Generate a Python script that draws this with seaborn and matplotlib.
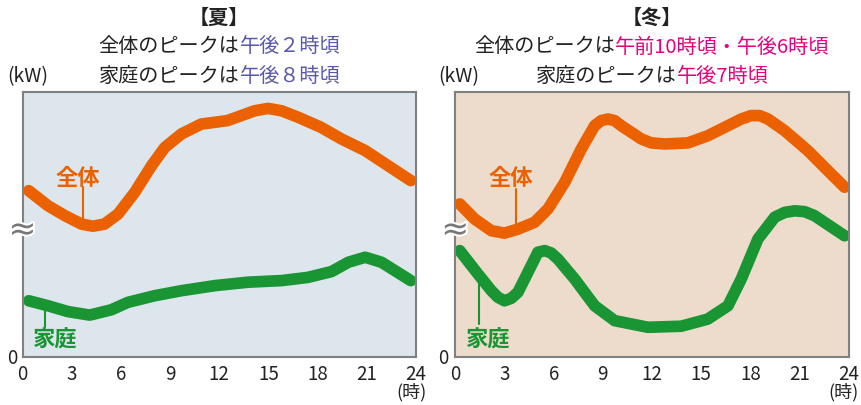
import matplotlib
matplotlib.use("Agg")
import matplotlib.pyplot as plt
import matplotlib.patheffects as pe
import seaborn as sns
import pandas as pd

# ---------------- data (0-100 relative scale) -------------
summer_total_h = [0.38, 1.56, 2.58, 3.6, 4.3, 5.0, 5.83, 6.85, 7.87, 8.68, 9.7, 10.9, 12.5,
                  13.35, 14.16, 14.98, 15.8, 16.8, 18.2, 19.45, 20.9, 22.3, 23.68]
summer_total_v = [62.7, 57.0, 53.3, 50.1, 49.3, 50.1, 53.9, 62.1, 72.1, 79.0, 84.1, 87.8, 89.1,
                  91.0, 92.8, 93.7, 92.8, 90.4, 86.6, 82.2, 77.8, 72.1, 66.5]
summer_home_h = [0.38, 1.56, 2.78, 4.1, 5.42, 6.43, 8.06, 9.7, 11.73, 13.76, 15.8, 17.4, 18.85,
                 19.87, 20.9, 21.9, 23.68]
summer_home_v = [21.2, 19.3, 17.1, 15.8, 17.8, 20.6, 23.1, 25.0, 26.9, 28.2, 28.8, 30.0, 32.2,
                 35.7, 37.6, 35.7, 28.8]
winter_total_h = [0.27, 1.18, 2.2, 3.0, 3.82, 4.84, 5.65, 6.67, 7.68, 8.5, 8.9, 9.31, 9.72,
                  10.12, 10.73, 11.34, 11.95, 12.77, 14.19, 15.4, 16.63, 17.44, 18.05, 18.56,
                  19.07, 20.09, 21.5, 22.73, 23.74]
winter_total_v = [57.7, 52.0, 47.6, 46.7, 48.2, 50.8, 55.8, 65.8, 78.4, 87.2, 89.1, 89.7, 89.1,
                  87.2, 84.7, 82.2, 80.7, 80.3, 80.7, 83.4, 87.2, 89.7, 91.0, 91.0,
                  89.7, 85.3, 77.8, 70.2, 64.0]
winter_home_h = [0.27, 1.38, 2.2, 2.6, 3.0, 3.41, 3.82, 4.63, 5.04, 5.45, 5.85, 6.26, 7.28, 8.5,
                 9.72, 11.75, 13.78, 15.4, 16.63, 17.44, 18.46, 19.48, 20.09, 20.7, 21.3, 21.9,
                 23.74]
winter_home_v = [40.1, 31.3, 25.0, 22.5, 21.2, 22.1, 24.4, 34.4, 39.5, 40.1, 39.2, 36.9, 29.4,
                 19.3, 13.7, 11.2, 11.6, 14.3, 19.3, 29.4, 44.5, 52.7, 54.5, 55.1, 54.8, 53.3,
                 45.7]

x_ticks = [0, 3, 6, 9, 12, 15, 18, 21, 24]
series_names = ["全体", "家庭"]
season_titles = ["【夏】", "【冬】"]
title_line2 = [[("全体のピークは", "k"), ("午後２時頃", "hl")],
               [("全体のピークは", "k"), ("午前10時頃・午後6時頃", "hl")]]
title_line3 = [[("家庭のピークは", "k"), ("午後８時頃", "hl")],
               [("家庭のピークは", "k"), ("午後7時頃", "hl")]]
# label anchor (hour, value) and leader line (hour, value top, value bottom)
total_label = [(3.39, 67.7, 3.70, 64.1, 52.0), (3.41, 67.7, 3.72, 63.3, 49.5)]
home_label = [(1.97, 6.6, 1.40, 17.5, 11.2), (2.00, 6.6, 1.43, 28.3, 12.4)]

# ---------------- style ----------------
sns.set_theme(style="white")
plt.rcParams["font.family"] = ["Noto Sans CJK JP", "DejaVu Sans"]

ORANGE = "#eb6100"
GREEN = "#1a9534"
HL = ["#5a58a8", "#e6007e"]
BG = ["#dde6ec", "#eddccc"]
SPINE = "#808080"

W, H = 861, 406
fig = plt.figure(figsize=(W / 100, H / 100), dpi=100)

panels = [
    (summer_total_h, summer_total_v, summer_home_h, summer_home_v, 22.5),
    (winter_total_h, winter_total_v, winter_home_h, winter_home_v, 455.3),
]

axes = []
for i, (th, tv, hh, hv, left_px) in enumerate(panels):
    ax = fig.add_axes([left_px / W, (H - 358) / H, 393.5 / W, 265.3 / H])
    axes.append(ax)
    ax.set_facecolor(BG[i])
    df = pd.concat([
        pd.DataFrame({"h": th, "v": tv, "s": series_names[0]}),
        pd.DataFrame({"h": hh, "v": hv, "s": series_names[1]}),
    ])
    sns.lineplot(data=df, x="h", y="v", hue="s", palette=[ORANGE, GREEN], sort=False,
                 linewidth=8.4, ax=ax, legend=False, solid_capstyle="round",
                 solid_joinstyle="round")
    ax.set_xlim(0, 24)
    ax.set_ylim(0, 100)
    ax.set_xticks(x_ticks)
    ax.set_xticklabels([str(t) for t in x_ticks])
    ax.set_yticks([])
    ax.set_xlabel("")
    ax.set_ylabel("")
    ax.tick_params(axis="x", length=0, pad=4, labelsize=13.5, colors="#222222")
    for sp in ax.spines.values():
        sp.set_color(SPINE)
        sp.set_linewidth(1.5)
        sp.set_visible(True)

    # series labels with leader lines
    lx, ly, kx, k1, k2 = total_label[i]
    ax.text(lx, ly, series_names[0], color=ORANGE, fontsize=16, fontweight="bold",
            ha="center", va="center")
    ax.plot([kx, kx], [k1, k2], color=ORANGE, lw=1.5)
    lx, ly, kx, k1, k2 = home_label[i]
    ax.text(lx, ly, series_names[1], color=GREEN, fontsize=16, fontweight="bold",
            ha="center", va="center")
    ax.plot([kx, kx], [k1, k2], color=GREEN, lw=1.5)

    # axis break mark
    ax.text(0, (358 - 231) / 265.3 * 100, "≈", transform=ax.transData, fontsize=24,
            color="#777777", ha="center", va="center", family="DejaVu Sans",
            clip_on=False,
            path_effects=[pe.withStroke(linewidth=3, foreground="white")])

# figure-pixel text helper
def ftext(x, y, s, **kw):
    return fig.text(x / W, 1 - y / H, s, **kw)

fig.canvas.draw()
renderer = fig.canvas.get_renderer()

def mixed_line(xc, y, pieces, hl, fs=14.5):
    texts = []
    for s, c in pieces:
        t = ftext(0, y, s, color=("#222222" if c == "k" else hl), fontsize=fs,
                  ha="left", va="center")
        texts.append(t)
    widths = [t.get_window_extent(renderer).width for t in texts]
    x = xc - sum(widths) / 2
    for t, w in zip(texts, widths):
        t.set_x(x / W)
        x += w

centers = [219.3, 652.0]
kw_x = [28, 459]
for i in range(2):
    ftext(centers[i], 17, season_titles[i], fontsize=14.5, color="#222222",
          ha="center", va="center", fontweight="bold")
    mixed_line(centers[i], 47, title_line2[i], HL[i])
    mixed_line(centers[i], 76.5, title_line3[i], HL[i])
    ftext(kw_x[i], 77, "(kW)", fontsize=14, color="#222222", ha="center", va="center")
    ftext(kw_x[i] - 16, 359, "0", fontsize=13.5, color="#222222", ha="center", va="center")

ftext(411, 392, "(時)", fontsize=13, color="#222222", ha="center", va="center")
ftext(843, 392, "(時)", fontsize=13, color="#222222", ha="center", va="center")

fig.savefig("out.png", dpi=100)
